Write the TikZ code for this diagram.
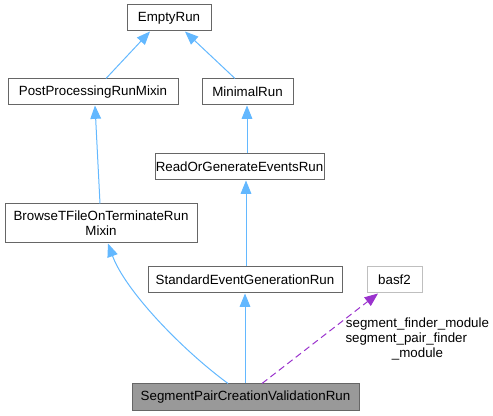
\documentclass[tikz,border=0pt]{standalone}
\usepackage{fontspec}
\setmainfont{Liberation Sans}
\usetikzlibrary{arrows.meta,calc}
\definecolor{edgeblue}{HTML}{63B8FF}
\definecolor{boxborder}{HTML}{666666}
\definecolor{lightborder}{HTML}{BFBFBF}
\definecolor{curfill}{HTML}{999999}
\definecolor{depviolet}{HTML}{9A32CD}
\begin{document}
\begin{tikzpicture}[x=0.75pt,y=-0.75pt,
  font=\fontsize{10}{11.2}\selectfont,
  cls/.style={draw=boxborder,fill=white,line width=0.75pt,inner sep=0pt,minimum height=19.5pt,align=center},
  edge/.style={draw=edgeblue,line width=0.75pt,-{Triangle[length=10pt,width=8pt]}},
  dep/.style={draw=depviolet,line width=0.75pt,dashed,dash pattern=on 5pt off 3pt,-{Triangle[length=10pt,width=8pt]}}]
\path[use as bounding box] (0,0) rectangle (493,416);

\node[cls,minimum width=63pt] (empty) at (169,18) {EmptyRun};
\node[cls,minimum width=127.5pt] (pprm) at (93,92) {PostProcessingRunMixin};
\node[cls,minimum width=68.25pt] (minimal) at (247.5,92) {MinimalRun};
\node[cls,minimum width=126.75pt] (roger) at (239.5,167) {ReadOrGenerateEventsRun};
\node[cls,minimum width=144pt,minimum height=29.25pt] (browse) at (101,223.5) {BrowseTFileOnTerminateRun\\Mixin};
\node[cls,minimum width=145.5pt] (segr) at (245,280) {StandardEventGenerationRun};
\node[cls,draw=lightborder,minimum width=41.25pt] (basf) at (394.5,280) {basf2};
\node[cls,fill=curfill,minimum width=170.25pt,minimum height=20.25pt] (spcvr) at (245.5,397.5) {SegmentPairCreationValidationRun};

\node[align=center,inner sep=0pt] (lbl) at (417.5,339) {segment\_finder\_module\\\makebox[108pt][l]{segment\_pair\_finder}\\\_module};

\draw[edge] ($(pprm.north)+(13,0)$) -- ($(empty.south)+(-19,0)$);
\draw[edge] ($(minimal.north)+(-12.5,0)$) -- ($(empty.south)+(16,0)$);
\draw[edge] ($(roger.north)+(7.5,0)$) -- ($(minimal.south)+(-0.5,0)$);
\draw[edge] ($(browse.north)+(-1,0)$) -- ($(pprm.south)+(2,0)$);
\draw[edge] ($(segr.north)+(1,0)$) -- ($(roger.south)+(6.5,0)$);
\draw[edge] ($(spcvr.north)+(-0.5,0)$) -- (segr.south);
\draw[edge] ($(spcvr.north)+(-17.5,0)$) .. controls (180,348) and (125,290) .. ($(browse.south)+(7,0)$);
\draw[dep] ($(spcvr.north)+(16.5,0)$) -- ($(basf.south)+(-16.5,0)$);
\end{tikzpicture}
\end{document}
